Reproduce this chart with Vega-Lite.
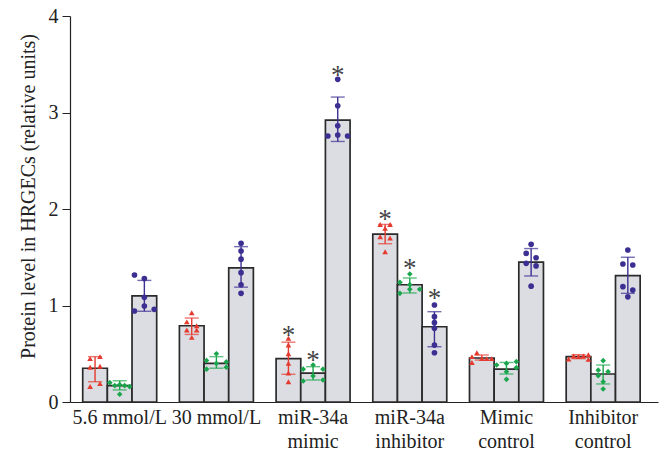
{
  "$schema": "https://vega.github.io/schema/vega-lite/v6.json",
  "autosize": "none",
  "width": 588,
  "height": 386,
  "padding": {"left": 70, "top": 16, "right": 4, "bottom": 54},
  "background": "white",
  "config": {
    "view": {"stroke": null},
    "font": "Liberation Serif",
    "axis": {"grid": false, "domainColor": "#222", "tickColor": "#222", "labelColor": "#222", "titleColor": "#222", "labelFont": "Liberation Serif", "titleFont": "Liberation Serif"}
  },
  "datasets": {
    "bars": [
      {"group": "5.6 mmol/L", "series": "A", "mean": 0.35, "lo": 0.21, "hi": 0.47, "star": null},
      {"group": "5.6 mmol/L", "series": "B", "mean": 0.17, "lo": 0.125, "hi": 0.22, "star": null},
      {"group": "5.6 mmol/L", "series": "C", "mean": 1.10, "lo": 0.94, "hi": 1.26, "star": null},
      {"group": "30 mmol/L", "series": "A", "mean": 0.79, "lo": 0.70, "hi": 0.87, "star": null},
      {"group": "30 mmol/L", "series": "B", "mean": 0.40, "lo": 0.35, "hi": 0.47, "star": null},
      {"group": "30 mmol/L", "series": "C", "mean": 1.39, "lo": 1.19, "hi": 1.61, "star": null},
      {"group": "miR-34a|mimic", "series": "A", "mean": 0.45, "lo": 0.287, "hi": 0.62, "star": 0.746},
      {"group": "miR-34a|mimic", "series": "B", "mean": 0.30, "lo": 0.228, "hi": 0.366, "star": 0.487},
      {"group": "miR-34a|mimic", "series": "C", "mean": 2.92, "lo": 2.70, "hi": 3.16, "star": 3.44},
      {"group": "miR-34a|inhibitor", "series": "A", "mean": 1.74, "lo": 1.64, "hi": 1.84, "star": 1.945},
      {"group": "miR-34a|inhibitor", "series": "B", "mean": 1.215, "lo": 1.13, "hi": 1.285, "star": 1.44},
      {"group": "miR-34a|inhibitor", "series": "C", "mean": 0.78, "lo": 0.573, "hi": 0.936, "star": 1.133},
      {"group": "Mimic|control", "series": "A", "mean": 0.456, "lo": 0.435, "hi": 0.487, "star": null},
      {"group": "Mimic|control", "series": "B", "mean": 0.34, "lo": 0.29, "hi": 0.41, "star": null},
      {"group": "Mimic|control", "series": "C", "mean": 1.45, "lo": 1.306, "hi": 1.59, "star": null},
      {"group": "Inhibitor|control", "series": "A", "mean": 0.47, "lo": 0.449, "hi": 0.49, "star": null},
      {"group": "Inhibitor|control", "series": "B", "mean": 0.29, "lo": 0.187, "hi": 0.383, "star": null},
      {"group": "Inhibitor|control", "series": "C", "mean": 1.31, "lo": 1.126, "hi": 1.50, "star": null}
    ],
    "pts": [
      {"group": "5.6 mmol/L", "series": "A", "slot": "A1", "v": 0.45},
      {"group": "5.6 mmol/L", "series": "A", "slot": "A3", "v": 0.47},
      {"group": "5.6 mmol/L", "series": "A", "slot": "A1", "v": 0.36},
      {"group": "5.6 mmol/L", "series": "A", "slot": "A3", "v": 0.37},
      {"group": "5.6 mmol/L", "series": "A", "slot": "A1", "v": 0.16},
      {"group": "5.6 mmol/L", "series": "A", "slot": "A3", "v": 0.19},
      {"group": "5.6 mmol/L", "series": "B", "slot": "B0", "v": 0.20},
      {"group": "5.6 mmol/L", "series": "B", "slot": "B1", "v": 0.17},
      {"group": "5.6 mmol/L", "series": "B", "slot": "B2", "v": 0.18},
      {"group": "5.6 mmol/L", "series": "B", "slot": "B3", "v": 0.17},
      {"group": "5.6 mmol/L", "series": "B", "slot": "B4", "v": 0.16},
      {"group": "5.6 mmol/L", "series": "B", "slot": "B2", "v": 0.08},
      {"group": "5.6 mmol/L", "series": "C", "slot": "C0", "v": 1.316},
      {"group": "5.6 mmol/L", "series": "C", "slot": "C2", "v": 1.28},
      {"group": "5.6 mmol/L", "series": "C", "slot": "C2", "v": 1.085},
      {"group": "5.6 mmol/L", "series": "C", "slot": "C2", "v": 0.995},
      {"group": "5.6 mmol/L", "series": "C", "slot": "C0", "v": 0.943},
      {"group": "5.6 mmol/L", "series": "C", "slot": "C4", "v": 0.96},
      {"group": "30 mmol/L", "series": "A", "slot": "A2", "v": 0.925},
      {"group": "30 mmol/L", "series": "A", "slot": "A1", "v": 0.83},
      {"group": "30 mmol/L", "series": "A", "slot": "A3", "v": 0.79},
      {"group": "30 mmol/L", "series": "A", "slot": "A1", "v": 0.746},
      {"group": "30 mmol/L", "series": "A", "slot": "A3", "v": 0.746},
      {"group": "30 mmol/L", "series": "A", "slot": "A2", "v": 0.67},
      {"group": "30 mmol/L", "series": "B", "slot": "B2", "v": 0.50},
      {"group": "30 mmol/L", "series": "B", "slot": "B0", "v": 0.43},
      {"group": "30 mmol/L", "series": "B", "slot": "B4", "v": 0.415},
      {"group": "30 mmol/L", "series": "B", "slot": "B2", "v": 0.40},
      {"group": "30 mmol/L", "series": "B", "slot": "B0", "v": 0.34},
      {"group": "30 mmol/L", "series": "B", "slot": "B4", "v": 0.36},
      {"group": "30 mmol/L", "series": "C", "slot": "C2", "v": 1.645},
      {"group": "30 mmol/L", "series": "C", "slot": "C2", "v": 1.565},
      {"group": "30 mmol/L", "series": "C", "slot": "C2", "v": 1.48},
      {"group": "30 mmol/L", "series": "C", "slot": "C2", "v": 1.34},
      {"group": "30 mmol/L", "series": "C", "slot": "C2", "v": 1.215},
      {"group": "30 mmol/L", "series": "C", "slot": "C2", "v": 1.126},
      {"group": "miR-34a|mimic", "series": "A", "slot": "A2", "v": 0.66},
      {"group": "miR-34a|mimic", "series": "A", "slot": "A2", "v": 0.59},
      {"group": "miR-34a|mimic", "series": "A", "slot": "A2", "v": 0.50},
      {"group": "miR-34a|mimic", "series": "A", "slot": "A2", "v": 0.40},
      {"group": "miR-34a|mimic", "series": "A", "slot": "A2", "v": 0.30},
      {"group": "miR-34a|mimic", "series": "A", "slot": "A2", "v": 0.21},
      {"group": "miR-34a|mimic", "series": "B", "slot": "B0", "v": 0.34},
      {"group": "miR-34a|mimic", "series": "B", "slot": "B2", "v": 0.383},
      {"group": "miR-34a|mimic", "series": "B", "slot": "B4", "v": 0.34},
      {"group": "miR-34a|mimic", "series": "B", "slot": "B2", "v": 0.27},
      {"group": "miR-34a|mimic", "series": "B", "slot": "B0", "v": 0.218},
      {"group": "miR-34a|mimic", "series": "B", "slot": "B4", "v": 0.228},
      {"group": "miR-34a|mimic", "series": "C", "slot": "C2", "v": 3.344},
      {"group": "miR-34a|mimic", "series": "C", "slot": "C2", "v": 3.07},
      {"group": "miR-34a|mimic", "series": "C", "slot": "C2", "v": 2.863},
      {"group": "miR-34a|mimic", "series": "C", "slot": "C0", "v": 2.756},
      {"group": "miR-34a|mimic", "series": "C", "slot": "C2", "v": 2.767},
      {"group": "miR-34a|mimic", "series": "C", "slot": "C4", "v": 2.756},
      {"group": "miR-34a|inhibitor", "series": "A", "slot": "A1", "v": 1.84},
      {"group": "miR-34a|inhibitor", "series": "A", "slot": "A3", "v": 1.84},
      {"group": "miR-34a|inhibitor", "series": "A", "slot": "A1", "v": 1.713},
      {"group": "miR-34a|inhibitor", "series": "A", "slot": "A3", "v": 1.70},
      {"group": "miR-34a|inhibitor", "series": "A", "slot": "A2", "v": 1.557},
      {"group": "miR-34a|inhibitor", "series": "A", "slot": "A2", "v": 1.80},
      {"group": "miR-34a|inhibitor", "series": "B", "slot": "B2", "v": 1.326},
      {"group": "miR-34a|inhibitor", "series": "B", "slot": "B0", "v": 1.24},
      {"group": "miR-34a|inhibitor", "series": "B", "slot": "B2", "v": 1.216},
      {"group": "miR-34a|inhibitor", "series": "B", "slot": "B4", "v": 1.168},
      {"group": "miR-34a|inhibitor", "series": "B", "slot": "B2", "v": 1.168},
      {"group": "miR-34a|inhibitor", "series": "B", "slot": "B0", "v": 1.126},
      {"group": "miR-34a|inhibitor", "series": "C", "slot": "C2", "v": 1.005},
      {"group": "miR-34a|inhibitor", "series": "C", "slot": "C2", "v": 0.884},
      {"group": "miR-34a|inhibitor", "series": "C", "slot": "C2", "v": 0.822},
      {"group": "miR-34a|inhibitor", "series": "C", "slot": "C2", "v": 0.763},
      {"group": "miR-34a|inhibitor", "series": "C", "slot": "C2", "v": 0.59},
      {"group": "miR-34a|inhibitor", "series": "C", "slot": "C2", "v": 0.51},
      {"group": "Mimic|control", "series": "A", "slot": "A0", "v": 0.47},
      {"group": "Mimic|control", "series": "A", "slot": "A1", "v": 0.51},
      {"group": "Mimic|control", "series": "A", "slot": "A2", "v": 0.45},
      {"group": "Mimic|control", "series": "A", "slot": "A3", "v": 0.45},
      {"group": "Mimic|control", "series": "A", "slot": "A4", "v": 0.45},
      {"group": "Mimic|control", "series": "A", "slot": "A0", "v": 0.41},
      {"group": "Mimic|control", "series": "B", "slot": "B0", "v": 0.383},
      {"group": "Mimic|control", "series": "B", "slot": "B2", "v": 0.40},
      {"group": "Mimic|control", "series": "B", "slot": "B4", "v": 0.418},
      {"group": "Mimic|control", "series": "B", "slot": "B4", "v": 0.356},
      {"group": "Mimic|control", "series": "B", "slot": "B2", "v": 0.314},
      {"group": "Mimic|control", "series": "B", "slot": "B2", "v": 0.235},
      {"group": "Mimic|control", "series": "C", "slot": "C2", "v": 1.634},
      {"group": "Mimic|control", "series": "C", "slot": "C1", "v": 1.54},
      {"group": "Mimic|control", "series": "C", "slot": "C3", "v": 1.495},
      {"group": "Mimic|control", "series": "C", "slot": "C1", "v": 1.437},
      {"group": "Mimic|control", "series": "C", "slot": "C3", "v": 1.41},
      {"group": "Mimic|control", "series": "C", "slot": "C2", "v": 1.20},
      {"group": "Inhibitor|control", "series": "A", "slot": "A0", "v": 0.446},
      {"group": "Inhibitor|control", "series": "A", "slot": "A1", "v": 0.477},
      {"group": "Inhibitor|control", "series": "A", "slot": "A2", "v": 0.47},
      {"group": "Inhibitor|control", "series": "A", "slot": "A3", "v": 0.477},
      {"group": "Inhibitor|control", "series": "A", "slot": "A4", "v": 0.49},
      {"group": "Inhibitor|control", "series": "A", "slot": "A4", "v": 0.442},
      {"group": "Inhibitor|control", "series": "B", "slot": "B2", "v": 0.428},
      {"group": "Inhibitor|control", "series": "B", "slot": "B1", "v": 0.33},
      {"group": "Inhibitor|control", "series": "B", "slot": "B3", "v": 0.314},
      {"group": "Inhibitor|control", "series": "B", "slot": "B1", "v": 0.273},
      {"group": "Inhibitor|control", "series": "B", "slot": "B2", "v": 0.21},
      {"group": "Inhibitor|control", "series": "B", "slot": "B2", "v": 0.135},
      {"group": "Inhibitor|control", "series": "C", "slot": "C2", "v": 1.575},
      {"group": "Inhibitor|control", "series": "C", "slot": "C1", "v": 1.43},
      {"group": "Inhibitor|control", "series": "C", "slot": "C3", "v": 1.42},
      {"group": "Inhibitor|control", "series": "C", "slot": "C1", "v": 1.195},
      {"group": "Inhibitor|control", "series": "C", "slot": "C3", "v": 1.16},
      {"group": "Inhibitor|control", "series": "C", "slot": "C2", "v": 1.09}
    ]
  },
  "encoding": {
    "x": {
      "field": "group", "type": "nominal", "sort": null,
      "scale": {"domain": ["5.6 mmol/L", "30 mmol/L", "miR-34a|mimic", "miR-34a|inhibitor", "Mimic|control", "Inhibitor|control"], "paddingInner": 0.235, "paddingOuter": 0.158, "align": 0.416},
      "axis": {"title": null, "labelAngle": 0, "labelExpr": "split(datum.label, '|')", "labelFontSize": 20, "labelLineHeight": 24, "labelPadding": 5, "ticks": false, "domainWidth": 1.2, "labelBaseline": "top"}
    }
  },
  "layer": [
    {
      "data": {"name": "bars"},
      "mark": {"type": "bar", "fill": "#dcdde3", "stroke": "#2a2a2a", "strokeWidth": 1.7},
      "encoding": {
        "xOffset": {"field": "series", "type": "nominal", "scale": {"domain": ["A", "B", "C"], "paddingInner": 0, "paddingOuter": 0}},
        "y": {"field": "mean", "type": "quantitative", "scale": {"domain": [0, 4]},
              "axis": {"title": "Protein level in HRGECs (relative units)", "values": [0, 1, 2, 3, 4], "format": "d", "labelFontSize": 20, "titleFontSize": 20, "titleFontWeight": "normal", "tickSize": 8, "labelPadding": 4, "titlePadding": 10, "titleY": 180, "domainWidth": 1.2}}
      }
    },
    {
      "data": {"name": "bars"},
      "mark": {"type": "rule", "strokeWidth": 1.4},
      "encoding": {
        "xOffset": {"field": "series", "type": "nominal", "scale": {"domain": ["A", "B", "C"], "paddingInner": 0, "paddingOuter": 0}},
        "y": {"field": "lo", "type": "quantitative"},
        "y2": {"field": "hi"},
        "color": {"field": "series", "type": "nominal", "scale": {"domain": ["A", "B", "C"], "range": ["#e53a2f", "#1aa64c", "#3b2f92"]}, "legend": null}
      }
    },
    {
      "data": {"name": "bars"},
      "mark": {"type": "tick", "size": 14, "thickness": 1.4},
      "encoding": {
        "xOffset": {"field": "series", "type": "nominal", "scale": {"domain": ["A", "B", "C"], "paddingInner": 0, "paddingOuter": 0}},
        "y": {"field": "lo", "type": "quantitative"},
        "color": {"field": "series", "type": "nominal", "legend": null}
      }
    },
    {
      "data": {"name": "bars"},
      "mark": {"type": "tick", "size": 14, "thickness": 1.4},
      "encoding": {
        "xOffset": {"field": "series", "type": "nominal", "scale": {"domain": ["A", "B", "C"], "paddingInner": 0, "paddingOuter": 0}},
        "y": {"field": "hi", "type": "quantitative"},
        "color": {"field": "series", "type": "nominal", "legend": null}
      }
    },
    {
      "data": {"name": "bars"},
      "transform": [{"filter": "datum.star != null"}],
      "mark": {"type": "text", "text": "*", "fontSize": 27, "fill": "#444", "baseline": "middle", "align": "center", "dy": 6},
      "encoding": {
        "xOffset": {"field": "series", "type": "nominal", "scale": {"type": "band", "domain": ["A", "B", "C"], "paddingInner": 0, "paddingOuter": 0}},
        "y": {"field": "star", "type": "quantitative"}
      }
    },
    {
      "data": {"name": "pts"},
      "mark": {"type": "point", "filled": true, "size": 32, "opacity": 1},
      "encoding": {
        "xOffset": {"field": "slot", "type": "nominal", "scale": {"type": "band", "domain": ["A0","A1","A2","A3","A4","B0","B1","B2","B3","B4","C0","C1","C2","C3","C4"], "paddingInner": 0, "paddingOuter": 0}},
        "y": {"field": "v", "type": "quantitative"},
        "color": {"field": "series", "type": "nominal", "legend": null},
        "shape": {"field": "series", "type": "nominal", "scale": {"domain": ["A", "B", "C"], "range": ["triangle-up", "diamond", "circle"]}, "legend": null}
      }
    }
  ],
  "resolve": {"scale": {"xOffset": "independent"}}
}
